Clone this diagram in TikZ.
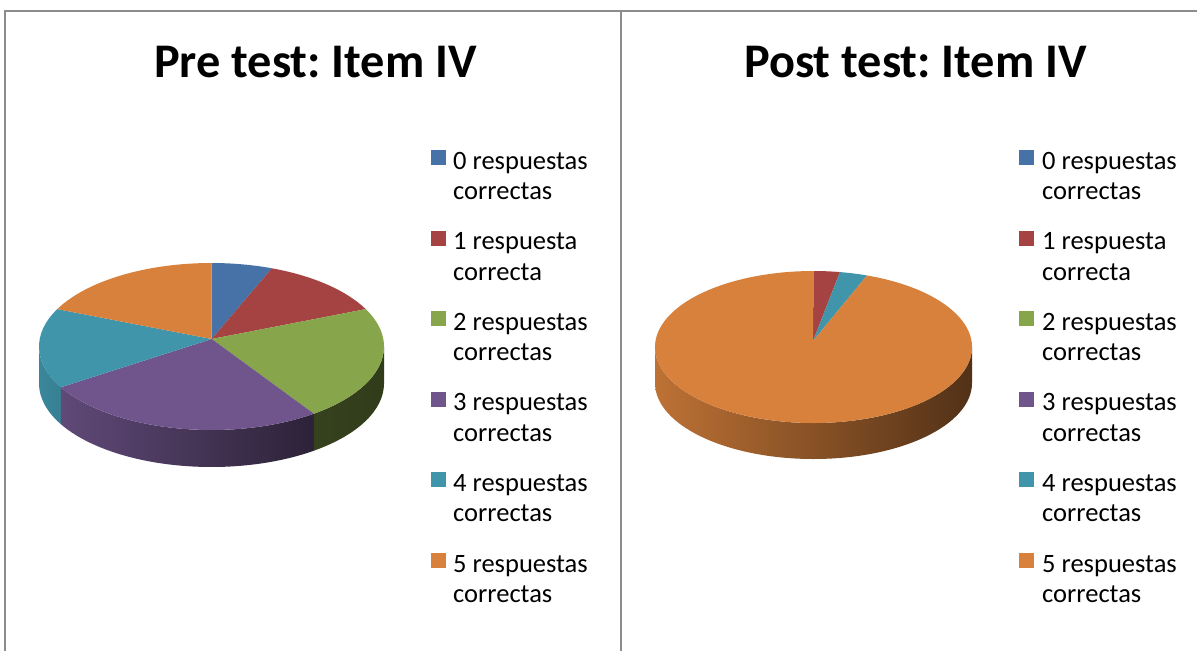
\documentclass[tikz,border=0pt]{standalone}
\usepackage{fontspec}
\setmainfont{Carlito}
\frenchspacing
\usetikzlibrary{calc}
\definecolor{cBlue}{HTML}{4672A8}
\definecolor{cRed}{HTML}{A54342}
\definecolor{cGreen}{HTML}{87A54B}
\definecolor{cPurple}{HTML}{6F558B}
\definecolor{cTeal}{HTML}{4195AB}
\definecolor{cOrange}{HTML}{D7813C}
\definecolor{framegray}{HTML}{8C8C8C}
\begin{document}
\begin{tikzpicture}[x=1pt,y=1pt,
  legtext/.style={anchor=base west, inner sep=0pt, font=\fontsize{26.5}{30.5}\selectfont},
  legkey/.style={minimum size=15pt, inner sep=0pt, draw=none},
  charttitle/.style={anchor=base, inner sep=0pt, font=\fontsize{48.3}{58}\selectfont\bfseries},
  frameline/.style={draw=framegray, line width=2.4pt}]
\useasboundingbox (0,0) rectangle (1197,-651);

% table rules
\draw[frameline] (5,-651) -- (5,-11) -- (1197,-11);
\draw[frameline] (621,-11) -- (621,-651);

% ---------- Pre test pie ----------
\coordinate (preC) at (211.5,-346.5);
\coordinate (preA) at (211.7,-339);
\def\rx{172.5}\def\ry{83.5}\def\dep{37}
% front wall
\shade[left color=cTeal!90!black, right color=cTeal!86!black]
  ($(preC)+(-180:\rx pt and \ry pt)$) arc[start angle=-180,end angle=-150.8,x radius=\rx,y radius=\ry]
  -- ++(0,-\dep) arc[start angle=-150.8,end angle=-180,x radius=\rx,y radius=\ry] -- cycle;
\shade[left color=cPurple!86!black, right color=cPurple!40!black]
  ($(preC)+(-150.8:\rx pt and \ry pt)$) arc[start angle=-150.8,end angle=-53.6,x radius=\rx,y radius=\ry]
  -- ++(0,-\dep) arc[start angle=-53.6,end angle=-150.8,x radius=\rx,y radius=\ry] -- cycle;
\shade[left color=cGreen!40!black, right color=cGreen!36!black]
  ($(preC)+(-53.6:\rx pt and \ry pt)$) arc[start angle=-53.6,end angle=0,x radius=\rx,y radius=\ry]
  -- ++(0,-\dep) arc[start angle=0,end angle=-53.6,x radius=\rx,y radius=\ry] -- cycle;
% top face
\foreach \a/\b/\c in {90/69.5/cBlue, 69.5/26.6/cRed, 26.6/-53.6/cGreen,
                      -53.6/-150.8/cPurple, -150.8/-206.6/cTeal, -206.6/-270/cOrange}{
  \fill[\c] (preA) -- ($(preC)+(\a:\rx pt and \ry pt)$)
    arc[start angle=\a,end angle=\b,x radius=\rx,y radius=\ry] -- cycle;
}

% ---------- Post test pie ----------
\coordinate (postC) at (813.5,-347);
\coordinate (postA) at (813,-341);
\def\qx{158.5}\def\qy{76}\def\qdep{36}
\shade[left color=cOrange!88!black, right color=cOrange!38!black]
  ($(postC)+(-180:\qx pt and \qy pt)$) arc[start angle=-180,end angle=0,x radius=\qx,y radius=\qy]
  -- ++(0,-\qdep) arc[start angle=0,end angle=-180,x radius=\qx,y radius=\qy] -- cycle;
\foreach \a/\b/\c in {90/80.4/cRed, 80.4/70.3/cTeal, 70.3/-270/cOrange}{
  \fill[\c] (postA) -- ($(postC)+(\a:\qx pt and \qy pt)$)
    arc[start angle=\a,end angle=\b,x radius=\qx,y radius=\qy] -- cycle;
}

% ---------- titles ----------
\node[charttitle] (preTitle) at (315.5,-77) {Pre test: Item IV};
\node[charttitle] (postTitle) at (915.5,-77) {Post test: Item IV};

% ---------- legends ----------
\foreach \i/\c/\t in {0/cBlue/0 respuestas, 1/cRed/1 respuesta, 2/cGreen/2 respuestas,
                      3/cPurple/3 respuestas, 4/cTeal/4 respuestas, 5/cOrange/5 respuestas}{
  \pgfmathsetmacro{\bl}{-169-80.6*\i}
  \pgfmathsetmacro{\sq}{\bl+11.5}
  \ifnum\i=1 \def\sec{correcta}\else\def\sec{correctas}\fi
  \node[legkey, fill=\c] (preKey\i) at (438.5,\sq) {};
  \node[legtext] (preLab\i) at (453,\bl) {\begin{tabular}[t]{@{}l@{}}\t\\\sec\end{tabular}};
  \node[legkey, fill=\c] (postKey\i) at (1026.5,\sq) {};
  \node[legtext] (postLab\i) at (1042,\bl) {\begin{tabular}[t]{@{}l@{}}\t\\\sec\end{tabular}};
}
\end{tikzpicture}
\end{document}
